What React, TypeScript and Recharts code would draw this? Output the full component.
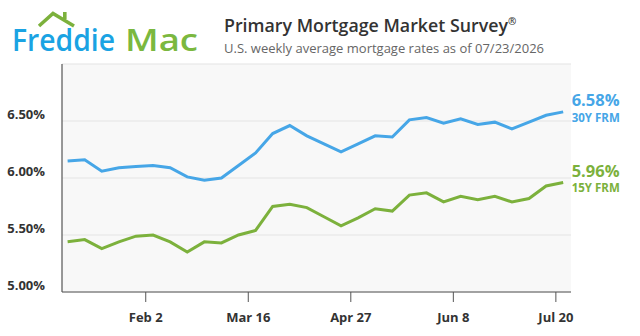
import React from 'react';
import {
  LineChart,
  Line,
  XAxis,
  YAxis,
  CartesianGrid,
} from 'recharts';

// weekly survey dates (Thursdays)
const weekDates = [
  '2026-01-01', '2026-01-08', '2026-01-15', '2026-01-22', '2026-01-29',
  '2026-02-05', '2026-02-12', '2026-02-19', '2026-02-26', '2026-03-05',
  '2026-03-12', '2026-03-19', '2026-03-26', '2026-04-02', '2026-04-09',
  '2026-04-16', '2026-04-23', '2026-04-30', '2026-05-07', '2026-05-14',
  '2026-05-21', '2026-05-28', '2026-06-04', '2026-06-11', '2026-06-18',
  '2026-06-25', '2026-07-02', '2026-07-09', '2026-07-16', '2026-07-23',
];

const frm30 = [
  6.15, 6.16, 6.06, 6.09, 6.10, 6.11, 6.09, 6.01, 5.98, 6.00,
  6.11, 6.22, 6.39, 6.46, 6.37, 6.30, 6.23, 6.30, 6.37, 6.36,
  6.51, 6.53, 6.48, 6.52, 6.47, 6.49, 6.43, 6.49, 6.55, 6.58,
];

const frm15 = [
  5.44, 5.46, 5.38, 5.44, 5.49, 5.50, 5.44, 5.35, 5.44, 5.43,
  5.50, 5.54, 5.75, 5.77, 5.74, 5.66, 5.58, 5.65, 5.73, 5.71,
  5.85, 5.87, 5.79, 5.84, 5.81, 5.84, 5.79, 5.82, 5.93, 5.96,
];

const tickDates = ['2026-02-02', '2026-03-16', '2026-04-27', '2026-06-08', '2026-07-20'];
const tickLabels = ['Feb 2', 'Mar 16', 'Apr 27', 'Jun 8', 'Jul 20'];

const rateTicks = [5, 5.5, 6, 6.5, 7];

const BLUE = '#46a6e7';
const GREEN = '#7cb13c';
const FONT = '"Open Sans", "Noto Sans", sans-serif';

const DAY = 86400000;
const base = Date.parse(weekDates[0]);
const toDay = (d: string) => (Date.parse(d) - base) / DAY;

const data = weekDates.map((d, i) => ({
  day: toDay(d),
  y30: frm30[i],
  y15: frm15[i],
}));

const tickDays = tickDates.map(toDay);
const last = data.length - 1;

const XTick = (props: any) => {
  const { x, y, payload } = props;
  const idx = tickDays.indexOf(payload.value);
  return (
    <text x={x} y={y + 18} textAnchor="middle" fill="#333" fontSize={13}
      fontWeight={700} fontFamily={FONT}>
      {tickLabels[idx]}
    </text>
  );
};

const YTick = (props: any) => {
  const { y, payload } = props;
  if (payload.value >= 7) return null;
  return (
    <text x={45} y={y - 2.5} textAnchor="end" fill="#333" fontSize={13}
      fontWeight={700} fontFamily={FONT}>
      {payload.value.toFixed(2)}%
    </text>
  );
};

// value + series name next to the latest point
const endLabel = (color: string, name: string, up: number, down: number) => (props: any) => {
  const { x, y, index, value } = props;
  if (index !== last) return null;
  return (
    <g fontFamily={FONT} fontWeight={700} fill={color}>
      <text x={x + 8.5} y={y - up} fontSize={16.5}>{Number(value).toFixed(2)}%</text>
      <text x={x + 8.5} y={y + down} fontSize={11.5}>{name}</text>
    </g>
  );
};

const Header = () => (
  <svg width={640} height={62} style={{ position: 'absolute', left: 0, top: 0 }}>
    <polyline points="39,26 53,13.5 74,26" fill="none" stroke={GREEN}
      strokeWidth={3.5} strokeLinejoin="miter" />
    <rect x={63} y={12} width={3.6} height={7} fill={GREEN} />
    <text x={12} y={50.5} fontFamily={FONT} fontSize={30} fontWeight={600}
      fill="#1aa3e3" textLength={103} lengthAdjust="spacingAndGlyphs">Freddie</text>
    <text x={125} y={50.5} fontFamily={FONT} fontSize={30} fontWeight={600}
      fill="#7bb83f" textLength={73} lengthAdjust="spacingAndGlyphs">Mac</text>
    <text x={224} y={31.5} fontFamily={FONT} fontSize={17.8} fontWeight={600} fill="#333">
      Primary Mortgage Market Survey
      <tspan fontSize={10} dy={-7}>®</tspan>
    </text>
    <text x={224} y={52.5} fontFamily={FONT} fontSize={13} fill="#666">
      U.S. weekly average mortgage rates as of 07/23/2026
    </text>
  </svg>
);

export default function App() {
  return (
    <div style={{ position: 'absolute', left: 0, top: 0, width: 640, height: 336, background: '#fff' }}>
      <LineChart width={640} height={336} data={data}
        margin={{ top: 64, right: 69, bottom: 0, left: 0 }}>
        <CartesianGrid vertical={false} fill="#f8f8f8" stroke="#e4e4e4" strokeWidth={1.2} />
        <XAxis dataKey="day" type="number" domain={[-2.3, 206.2]} ticks={tickDays}
          height={44} tickSize={10} tick={<XTick />}
          axisLine={{ stroke: '#555', strokeWidth: 1.2 }} tickLine={{ stroke: '#555' }} />
        <YAxis type="number" domain={[5, 7]} ticks={rateTicks} width={62}
          tick={<YTick />} tickLine={false}
          axisLine={{ stroke: '#555', strokeWidth: 1.2 }} />
        <Line dataKey="y30" stroke={BLUE} strokeWidth={3} dot={false}
          isAnimationActive={false} label={endLabel(BLUE, '30Y FRM', 5.5, 10.5)} />
        <Line dataKey="y15" stroke={GREEN} strokeWidth={3} dot={false}
          isAnimationActive={false} label={endLabel(GREEN, '15Y FRM', 6, 9.5)} />
      </LineChart>
      <Header />
    </div>
  );
}
